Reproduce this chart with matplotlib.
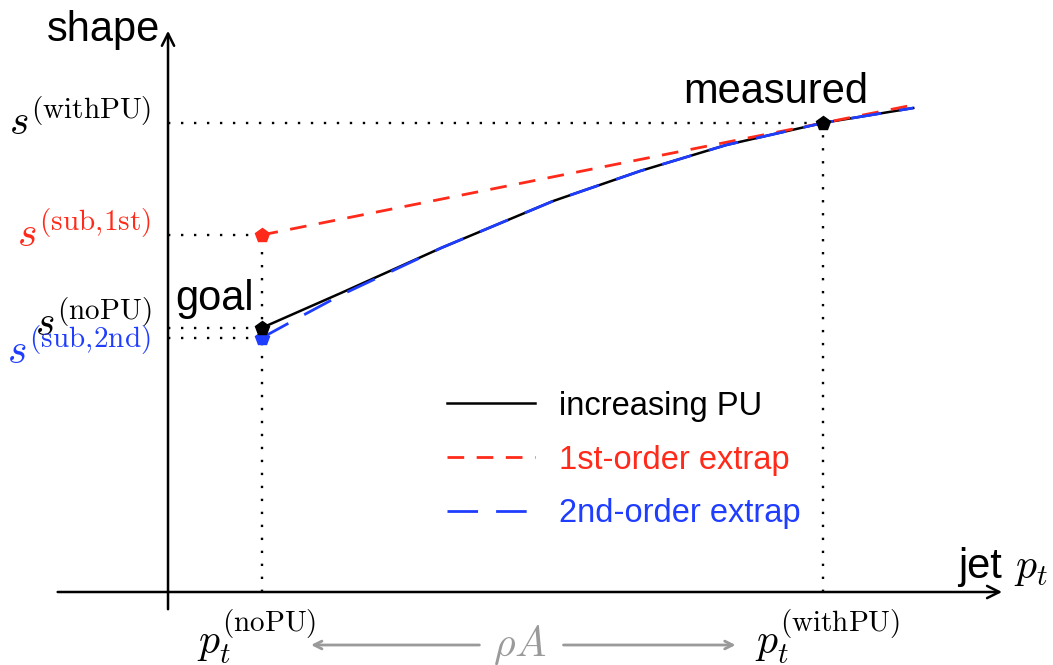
import numpy as np
import matplotlib
matplotlib.use("Agg")
import matplotlib.pyplot as plt

plt.rcParams['font.family'] = ['Liberation Sans', 'DejaVu Sans']
plt.rcParams['mathtext.fontset'] = 'cm'

RED = '#ff2a1a'
BLUE = '#1f3dff'
GREY = '#9a9a9a'

# jet pt (arbitrary units) and shape values
pt_nopu = 1.0
pt_withpu = 7.0
s_nopu = 2.64
s_withpu = 4.69
s_sub1 = 3.57
s_sub2 = 2.54

# shape vs pt as pileup increases
pu_pt = [1.0, 1.85, 2.92, 4.12, 5.05, 5.97, 7.0, 7.97]
pu_shape = [2.64, 2.99, 3.44, 3.91, 4.21, 4.47, 4.69, 4.84]

# first-order extrapolation (straight line through measured point)
ext1_pt = [1.0, 7.97]
ext1_shape = [3.57, 4.87]

# second-order extrapolation
ext2_pt = [1.0, 1.45, 1.85, 2.92, 4.12, 5.05, 5.97, 7.0, 7.97]
ext2_shape = [2.54, 2.77, 2.97, 3.44, 3.91, 4.21, 4.47, 4.69, 4.84]

fig = plt.figure(figsize=(10.53, 6.65), dpi=100)
ax = fig.add_axes([0, 0, 1, 1])
ax.set_xlim(-1.797, 9.465)
ax.set_ylim(-0.73, 5.92)
ax.axis('off')

# axes with arrow heads
ax.annotate('', xy=(8.95, 0), xytext=(-1.21, 0),
            arrowprops=dict(arrowstyle='->', lw=1.8, color='black', mutation_scale=22))
ax.annotate('', xy=(0, 5.64), xytext=(0, -0.2),
            arrowprops=dict(arrowstyle='->', lw=1.8, color='black', mutation_scale=22))

# dotted guide lines
dot = dict(color='black', lw=1.7, ls=(0, (1, 4.5)))
ax.plot([0, pt_withpu], [s_withpu, s_withpu], **dot)
ax.plot([0, pt_nopu], [s_sub1, s_sub1], **dot)
ax.plot([0, pt_nopu], [s_nopu, s_nopu], **dot)
ax.plot([0, pt_nopu], [s_sub2, s_sub2], **dot)
ax.plot([pt_nopu, pt_nopu], [0, s_sub1], **dot)
ax.plot([pt_withpu, pt_withpu], [0, s_withpu], **dot)

# curves
ax.plot(pu_pt, pu_shape, color='black', lw=1.8, label='increasing PU', zorder=3)
ax.plot(ext1_pt, ext1_shape, color=RED, lw=2.0, ls=(0, (6, 4.5)),
        label='1st-order extrap', zorder=4)
ax.plot(ext2_pt, ext2_shape, color=BLUE, lw=2.0, ls=(0, (11, 6.5)),
        label='2nd-order extrap', zorder=4)

# points
ax.plot([pt_nopu], [s_sub1], 'p', color=RED, ms=10, zorder=5)
ax.plot([pt_nopu], [s_sub2], 'p', color=BLUE, ms=10, zorder=5)
ax.plot([pt_nopu, pt_withpu], [s_nopu, s_withpu], 'p', color='black', ms=10, zorder=6)

# axis titles and annotations
ax.text(-0.08, 5.62, 'shape', fontsize=30, ha='right', va='center')
ax.text(8.45, 0.25, 'jet', fontsize=30, ha='left', va='center')
ax.text(9.05, 0.24, r'$p_t$', fontsize=30, ha='left', va='center')
ax.text(0.5, 2.93, 'goal', fontsize=30, ha='center', va='center')
ax.text(6.5, 5.0, 'measured', fontsize=30, ha='center', va='center')

# shape value labels on the left
ax.text(-0.18, s_withpu, r'$s^{(\mathrm{withPU})}$', fontsize=30, ha='right', va='center')
ax.text(-0.18, s_sub1, r'$s^{(\mathrm{sub,\!1st})}$', fontsize=30, ha='right',
        va='center', color=RED)
ax.text(-0.18, s_nopu + 0.04, r'$s^{(\mathrm{noPU})}$', fontsize=30, ha='right', va='center')
ax.text(-0.18, s_sub2 - 0.14, r'$s^{(\mathrm{sub,\!2nd})}$', fontsize=30, ha='right',
        va='center', color=BLUE)

# pt value labels below the axis
ax.text(pt_nopu - 0.05, -0.45, r'$p_t^{(\mathrm{noPU})}$', fontsize=30, ha='center', va='center')
ax.text(pt_withpu + 0.05, -0.45, r'$p_t^{(\mathrm{withPU})}$', fontsize=30, ha='center', va='center')
ax.text(3.76, -0.53, r'$\rho A$', fontsize=30, ha='center', va='center', color=GREY)
ax.annotate('', xy=(1.5, -0.53), xytext=(3.36, -0.53),
            arrowprops=dict(arrowstyle='->', lw=2, color=GREY, mutation_scale=14))
ax.annotate('', xy=(6.1, -0.53), xytext=(4.2, -0.53),
            arrowprops=dict(arrowstyle='->', lw=2, color=GREY, mutation_scale=14))

leg = ax.legend(loc='center left', bbox_to_anchor=(2.98, 1.32),
                bbox_transform=ax.transData, frameon=False, fontsize=23.5,
                handlelength=2.7, handletextpad=0.75, labelspacing=0.7,
                borderpad=0, borderaxespad=0, labelcolor='linecolor')

fig.savefig('out.png', dpi=100)
